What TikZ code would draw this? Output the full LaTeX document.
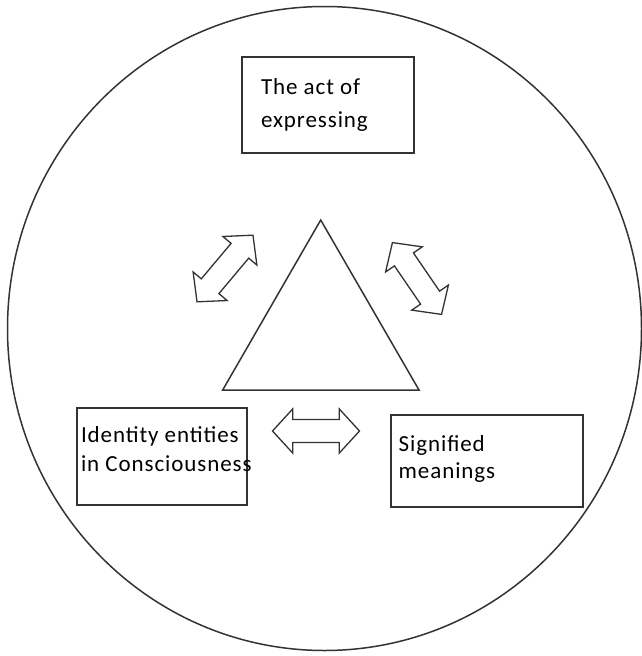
\documentclass[tikz,border=0pt]{standalone}
\usepackage{fontspec}
\setmainfont{Carlito}
\newfontfamily\boxfont[LetterSpace=4]{Carlito}
\usetikzlibrary{positioning}
\usetikzlibrary{shapes.arrows}
\tikzset{conceptbox/.style={rectangle,draw=black!80,line width=1.8pt,fill=white,
inner sep=0pt}}
\tikzset{boxtext/.style={rectangle,draw=none,inner sep=0pt,align=left,
font=\boxfont\fontsize{23}{29}\selectfont}}
\tikzset{linkarrow/.style={double arrow,draw=black!80,line width=1.3pt,fill=white,
inner xsep=0pt,inner ysep=10.85pt,minimum height=87pt,
double arrow head extend=10.7pt,double arrow tip angle=95}}

\begin{document}
\begin{tikzpicture}[x=1pt,y=-1pt]
    \useasboundingbox (0,0) rectangle (642,656);

    \draw[black!80,line width=1.5pt] (324.5,328.5) ellipse [x radius=317, y radius=322];
    \draw[black!80,line width=1.5pt,line join=miter] (320.7,220) -- (419,390) -- (222.7,390) -- cycle;

    \node[conceptbox,minimum width=171.7pt,minimum height=96.3pt] (boxAct) at (328.2,104.9) {};
    \node[conceptbox,minimum width=170pt,minimum height=96.7pt] (boxIdent) at (161.7,456.7) {};
    \node[conceptbox,minimum width=192.3pt,minimum height=92.3pt] (boxSign) at (487.2,461.2) {};

    \node[boxtext,font=\boxfont\fontsize{23}{33}\selectfont,right=19.4pt of boxAct.west] (txtAct) {The act of\\expressing};
    \node[boxtext,right=5pt of boxIdent.west,yshift=7.3pt] (txtIdent) {Identity entities\\in Consciousness};
    \node[boxtext,font=\boxfont\fontsize{23}{26.5}\selectfont,right=8.3pt of boxSign.west,yshift=2.4pt] (txtSign) {Signified\\meanings};

    \node[linkarrow,rotate=50] (arrowLeft) at (225,268.5) {};
    \node[linkarrow,rotate=-55.6] (arrowRight) at (417,278.5) {};
    \node[linkarrow] (arrowBase) at (316,431) {};

\end{tikzpicture}
\end{document}
